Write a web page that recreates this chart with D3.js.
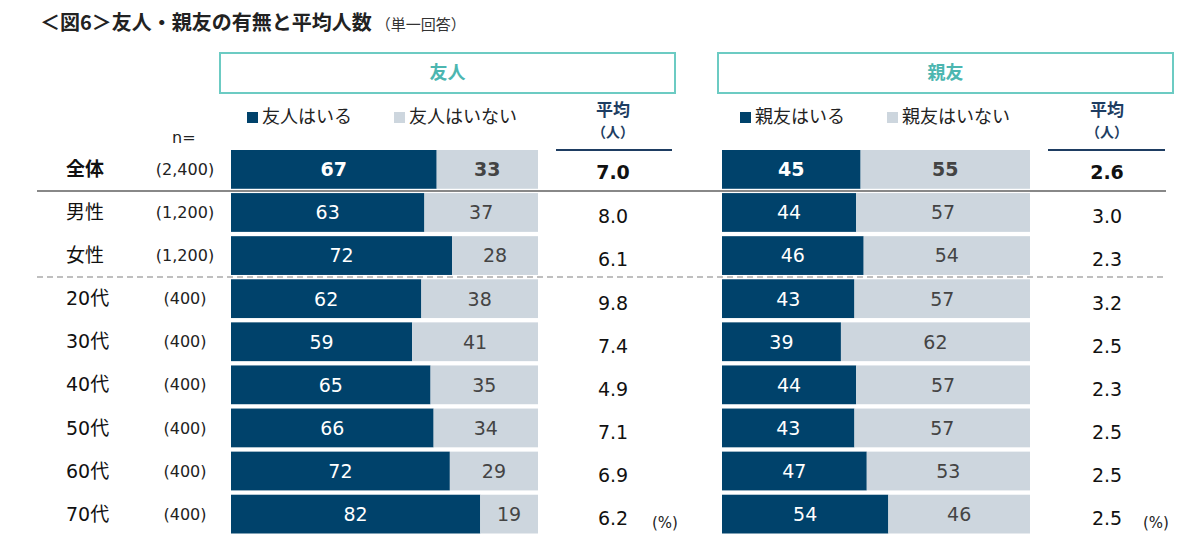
<!DOCTYPE html>
<html><head><meta charset="utf-8">
<script src="https://cdn.jsdelivr.net/npm/d3@7"></script>
<style>body{margin:0;background:#fff}svg{display:block}</style>
</head><body>
<script>
const rows = ["全体","男性","女性","20代","30代","40代","50代","60代","70代"];
const nLabels = ["(2,400)","(1,200)","(1,200)","(400)","(400)","(400)","(400)","(400)","(400)"];
const friendYes = [67,63,72,62,59,65,66,72,82];
const friendNo  = [33,37,28,38,41,35,34,29,19];
const friendAvg = ["7.0","8.0","6.1","9.8","7.4","4.9","7.1","6.9","6.2"];
const bestYes = [45,44,46,43,39,44,43,47,54];
const bestNo  = [55,57,54,57,62,57,57,53,46];
const bestAvg = ["2.6","3.0","2.3","3.2","2.5","2.3","2.5","2.5","2.5"];
const panelTitles = ["友人","親友"];
const legendLabels = [["友人はいる","友人はいない"],["親友はいる","親友はいない"]];

const W = 1200, H = 554;
const DARK = "#00426b", LIGHT = "#cdd6de", TEAL = "#6ccbc3", TEALTXT = "#4cb6b0", NAVY = "#1e3d62";
const JP = "'Noto Sans CJK JP','Noto Sans',sans-serif";
const NUM = "'DejaVu Sans','Noto Sans CJK JP',sans-serif";

const svg = d3.select("body").append("svg").attr("width", W).attr("height", H);

// title
const t = svg.append("text").attr("x", 40).attr("y", 30).attr("font-family", JP).attr("fill", "#222");
t.append("tspan").attr("font-size", 20).attr("font-weight", "bold").text("＜図6＞友人・親友の有無と平均人数");
t.append("tspan").attr("font-size", 15).attr("dx", 4).attr("fill", "#333").text("（単一回答）");

const y = d3.scaleBand().domain(rows).range([150, 533.5]).paddingInner(0.1);
const bw = y.bandwidth(), step = y.step();

// row labels
svg.append("text").attr("x", 172).attr("y", 137).attr("dy", "0.35em").attr("font-family", NUM)
  .attr("font-size", 16).attr("fill", "#222").text("n=");
svg.append("g").selectAll("text").data(rows).join("text")
  .attr("x", 66).attr("y", d => y(d) + bw / 2).attr("dy", "0.35em")
  .attr("font-family", NUM).attr("font-size", 19).attr("fill", "#111")
  .attr("font-weight", (d, i) => i === 0 ? "bold" : "normal").text(d => d);
svg.append("g").selectAll("text").data(nLabels).join("text")
  .attr("x", 185).attr("y", (d, i) => y(rows[i]) + bw / 2).attr("dy", "0.35em")
  .attr("text-anchor", "middle").attr("font-family", NUM).attr("font-size", 16).attr("fill", "#222")
  .text(d => d);

const panels = [
  {x0: 231, x1: 538, box: [220, 675], leg: [247, 394], avgX: 613, avgLine: [556, 672], pct: 652, yes: friendYes, no: friendNo, avg: friendAvg},
  {x0: 722, x1: 1030, box: [718, 1173], leg: [740, 887], avgX: 1107, avgLine: [1048, 1165], pct: 1143, yes: bestYes, no: bestNo, avg: bestAvg}
];

panels.forEach((p, pi) => {
  const g = svg.append("g");
  // header box
  g.append("rect").attr("x", p.box[0]).attr("y", 53).attr("width", p.box[1] - p.box[0]).attr("height", 40)
    .attr("fill", "none").attr("stroke", TEAL).attr("stroke-width", 2);
  g.append("text").attr("x", (p.box[0] + p.box[1]) / 2).attr("y", 73).attr("dy", "0.35em")
    .attr("text-anchor", "middle").attr("font-family", JP).attr("font-size", 18).attr("font-weight", "bold")
    .attr("fill", TEALTXT).text(panelTitles[pi]);
  // legend
  [DARK, LIGHT].forEach((c, li) => {
    g.append("rect").attr("x", p.leg[li]).attr("y", 112).attr("width", 11).attr("height", 11).attr("fill", c);
    g.append("text").attr("x", p.leg[li] + 15).attr("y", 117).attr("dy", "0.35em")
      .attr("font-family", JP).attr("font-size", 18).attr("fill", "#222").text(legendLabels[pi][li]);
  });
  // avg header
  g.append("text").attr("x", p.avgX).attr("y", 110).attr("dy", "0.35em").attr("text-anchor", "middle")
    .attr("font-family", JP).attr("font-size", 17).attr("font-weight", "bold").attr("fill", NAVY).text("平均");
  g.append("text").attr("x", p.avgX).attr("y", 132).attr("dy", "0.35em").attr("text-anchor", "middle")
    .attr("font-family", JP).attr("font-size", 14).attr("font-weight", "bold").attr("fill", NAVY).text("（人）");
  g.append("line").attr("x1", p.avgLine[0]).attr("x2", p.avgLine[1]).attr("y1", 150).attr("y2", 150)
    .attr("stroke", NAVY).attr("stroke-width", 2);

  // stacked bars
  const data = rows.map((r, i) => ({row: r, yes: p.yes[i], no: p.no[i]}));
  const series = d3.stack().keys(["yes", "no"]).offset(d3.stackOffsetExpand)(data);
  const x = d3.scaleLinear().domain([0, 1]).range([p.x0, p.x1]);
  const colors = {yes: DARK, no: LIGHT};
  series.forEach(s => {
    const sg = g.append("g");
    sg.selectAll("rect").data(s).join("rect")
      .attr("x", d => x(d[0])).attr("y", d => y(d.data.row))
      .attr("width", d => x(d[1]) - x(d[0])).attr("height", bw).attr("fill", colors[s.key]);
    sg.selectAll("text").data(s).join("text")
      .attr("x", d => (x(d[0]) + x(d[1])) / 2).attr("y", d => y(d.data.row) + bw / 2).attr("dy", "0.36em")
      .attr("text-anchor", "middle").attr("font-family", NUM).attr("font-size", 19)
      .attr("font-weight", d => d.data.row === rows[0] ? "bold" : "normal")
      .attr("fill", s.key === "yes" ? "#fff" : "#444")
      .text(d => d.data[s.key]);
  });
  // averages
  g.append("g").selectAll("text").data(p.avg).join("text")
    .attr("x", p.avgX).attr("y", (d, i) => y(rows[i]) + bw / 2 + (i === 0 ? 3 : 4)).attr("dy", "0.36em")
    .attr("text-anchor", "middle").attr("font-family", NUM).attr("font-size", 19)
    .attr("font-weight", (d, i) => i === 0 ? "bold" : "normal").attr("fill", "#111").text(d => d);
  g.append("text").attr("x", p.pct).attr("y", 523).attr("dy", "0.35em").attr("font-family", NUM)
    .attr("font-size", 15).attr("fill", "#222").text("(%)");
});

// separators
const sep1 = y(rows[0]) + bw + (step - bw) / 2;
const sep2 = y(rows[2]) + bw + (step - bw) / 2;
svg.append("line").attr("x1", 37).attr("x2", 1166).attr("y1", sep1).attr("y2", sep1)
  .attr("stroke", "#888").attr("stroke-width", 2);
svg.append("line").attr("x1", 37).attr("x2", 1166).attr("y1", sep2).attr("y2", sep2)
  .attr("stroke", "#aaa").attr("stroke-width", 1.5).attr("stroke-dasharray", "6,4");
</script>
</body></html>
